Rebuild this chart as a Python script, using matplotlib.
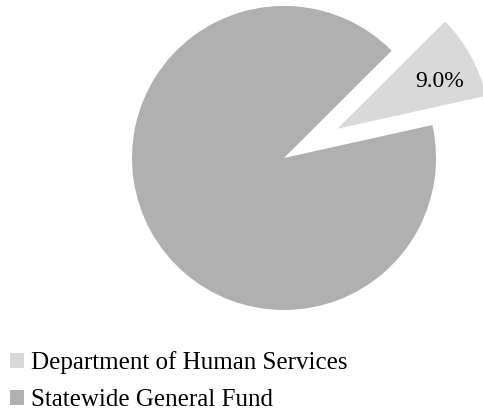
import numpy as np
import matplotlib.pyplot as plt
from matplotlib.patches import Patch

labels = ["Department of Human Services", "Statewide General Fund"]
shares = [9.0, 91.0]
colors = ["#d9d9d9", "#b0b0b0"]

plt.rcParams['font.family'] = ['Liberation Serif', 'DejaVu Serif']

fig = plt.figure(figsize=(4.83, 4.12), dpi=100)
# pie area placed so that one data unit is ~152 px in both directions
ax = fig.add_axes([132 / 483, 102 / 412, 351 / 483, 310 / 412])
wedges, texts, autotexts = ax.pie(shares, colors=colors, startangle=12.5,
                                  explode=[0.4, 0], autopct='%1.1f%%',
                                  pctdistance=0.74,
                                  textprops={'fontsize': 17, 'color': 'black'},
                                  wedgeprops={'linewidth': 0})
# only the small slice gets its percentage label, set a bit below the bisector
autotexts[1].set_visible(False)
ang = np.deg2rad(25)
cx, cy = wedges[0].center
autotexts[0].set_position((cx + 0.74 * np.cos(ang), cy + 0.74 * np.sin(ang)))
ax.set_xlim(-1, 1.309)
ax.set_ylim(-1, 1.039)
ax.set_aspect('auto')
ax.axis('off')

handles = [Patch(facecolor=c, edgecolor='none') for c in colors]
fig.legend(handles, labels, loc='lower left', bbox_to_anchor=(0.0, -9 / 412),
           borderaxespad=0, frameon=False, fontsize=18,
           handlelength=0.55, handleheight=0.55,
           handletextpad=0.3, labelspacing=0.6)

fig.savefig('out.png', dpi=100)
